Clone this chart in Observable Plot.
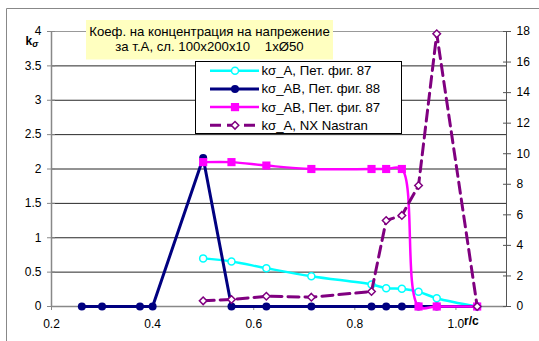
<!DOCTYPE html>
<html>
<head>
<meta charset="utf-8">
<script src="https://cdn.jsdelivr.net/npm/d3@7"></script>
<script src="https://cdn.jsdelivr.net/npm/@observablehq/plot@0.6"></script>
<style>
  body { margin: 0; background: #fff; }
</style>
</head>
<body>
<div id="chart"></div>
<script>
// r/c positions of the stations along the ligament
const rcA87  = [0.5, 0.556, 0.625, 0.714, 0.833, 0.862, 0.893, 0.926, 0.962, 1.042];
const rcAB88 = [0.26, 0.30, 0.375, 0.40, 0.5, 0.556, 0.625, 0.714, 0.833, 0.862, 0.893, 0.926, 0.962, 1.042];

// stress concentration factors (left axis)
const kA87   = [0.70, 0.655, 0.557, 0.44, 0.32, 0.266, 0.257, 0.214, 0.121, 0.0];
const kAB88  = [0, 0, 0, 0, 2.16, 0, 0, 0, 0, 0, 0, 0, 0, 0];
const kAB87  = [2.10, 2.10, 2.05, 2.0, 2.0, 2.0, 2.0, 0, 0, 0];
// NX Nastran result (right axis)
const kNastran = [0.37, 0.46, 0.67, 0.61, 0.98, 5.63, 5.96, 7.92, 17.85, 0];

// axis ticks
const xTicks = [0.2, 0.4, 0.6, 0.8, 1.0];
const leftTicks = [0, 0.5, 1, 1.5, 2, 2.5, 3, 3.5, 4];
const rightTicks = [0, 2, 4, 6, 8, 10, 12, 14, 16, 18];

const titleLines = ["Коеф. на концентрация на напрежение", "за т.А, сл. 100x200x10    1xØ50"];
const seriesNames = ["kσ_A, Пет. фиг. 87", "kσ_AB, Пет. фиг. 88", "kσ_AB, Пет. фиг. 87", "kσ_A, NX Nastran"];

const FONT = '"Liberation Sans", Arial, sans-serif';
const toLeft = 4 / 18; // right axis value -> left axis units

const table = (xs, ys, k = 1) => xs.map((x, i) => ({x, y: ys[i] * k}));
const sA87 = table(rcA87, kA87);
const sAB88 = table(rcAB88, kAB88);
const sAB87 = table(rcA87, kAB87);
const sNast = table(rcA87, kNastran, toLeft);

const C = {cyan: "#00FFFF", navy: "#000080", magenta: "#FF00FF", purple: "#800080"};

const chart = Plot.plot({
  width: 539,
  height: 341,
  marginTop: 31,
  marginBottom: 35,
  marginLeft: 51,
  marginRight: 33,
  x: {domain: [0.2, 1.1]},
  y: {domain: [0, 4]},
  style: {fontFamily: FONT, fontSize: "12px", color: "#000", background: "#fff"},
  marks: [
    Plot.gridY(leftTicks, {stroke: "#000", strokeOpacity: 0.85}),
    Plot.ruleY([4], {stroke: "#999"}),
    Plot.ruleX([1.1], {stroke: "#555"}),
    Plot.ruleX([0.2], {stroke: "#888", strokeWidth: 1.5}),
    Plot.ruleY([0], {stroke: "#888", strokeWidth: 1.5}),
    // left axis
    Plot.axisY(leftTicks, {anchor: "left", tickSize: 0, tickPadding: 10, tickFormat: d => String(d), label: null}),
    Plot.axisY(leftTicks, {anchor: "left", tickSize: 8, dx: 4, tickFormat: () => "", stroke: "#888", label: null}),
    // right axis
    Plot.axisY(rightTicks.map(v => v * toLeft), {anchor: "right", tickSize: 0, tickPadding: 10, tickFormat: d => String(Math.round(d / toLeft)), label: null}),
    Plot.axisY(rightTicks.map(v => v * toLeft), {anchor: "right", tickSize: 8, dx: -4, tickFormat: () => "", stroke: "#555", label: null}),
    // bottom axis
    Plot.axisX(xTicks, {tickSize: 4, tickPadding: 9, tickFormat: d3.format(".1f"), stroke: "#888", label: null}),
    // series
    Plot.line(sA87, {x: "x", y: "y", stroke: C.cyan, strokeWidth: 2.5, curve: "catmull-rom"}),
    Plot.dot(sA87, {x: "x", y: "y", r: 3.5, stroke: C.cyan, fill: "#fff", strokeWidth: 1.5}),
    Plot.line(sAB88, {x: "x", y: "y", stroke: C.navy, strokeWidth: 3}),
    Plot.dot(sAB88, {x: "x", y: "y", r: 4, fill: C.navy}),
    Plot.line(sAB87, {x: "x", y: "y", stroke: C.magenta, strokeWidth: 2.5, curve: "catmull-rom"}),
    Plot.dot(sAB87, {x: "x", y: "y", symbol: "square", r: 4.6, fill: C.magenta}),
    Plot.line(sNast, {x: "x", y: "y", stroke: C.purple, strokeWidth: 3, strokeDasharray: "11,6"}),
    Plot.dot(sNast, {x: "x", y: "y", symbol: "diamond2", r: 3.4, stroke: C.purple, fill: "#fff", strokeWidth: 1.5})
  ]
});

document.getElementById("chart").appendChild(chart);
const svg = d3.select(chart);

// chart frame
svg.append("path").attr("d", "M6.5,341V8.5H539").attr("fill", "none").attr("stroke", "#888");

// title box
const tb = svg.append("g").attr("font-family", FONT).attr("font-size", 13.2).attr("text-anchor", "middle");
tb.append("rect").attr("x", 86).attr("y", 20).attr("width", 247).attr("height", 39.5).attr("fill", "#FFFFC0");
titleLines.forEach((t, i) => {
  tb.append("text").attr("x", 209.5).attr("y", 31 + i * 15.7)
    .attr("dominant-baseline", "central").attr("fill", "#000").style("white-space", "pre").text(t);
});

// y-axis label
const yl = svg.append("text").attr("x", 25.5).attr("y", 45).attr("text-anchor", "start")
  .attr("font-family", FONT).attr("font-weight", "bold").attr("fill", "#000");
yl.append("tspan").attr("font-size", 12).text("k");
yl.append("tspan").attr("font-size", 9).attr("font-style", "italic").attr("dy", 2).text("σ");

// x-axis label
svg.append("text").attr("x", 464).attr("y", 325).attr("text-anchor", "start").attr("font-family", FONT)
  .attr("font-size", 12).attr("font-weight", "bold").attr("fill", "#000").text("r/c");

// legend
const lg = svg.append("g").attr("font-family", FONT).attr("font-size", 13.2).attr("text-anchor", "start");
lg.append("rect").attr("x", 195.5).attr("y", 61.5).attr("width", 206).attr("height", 72)
  .attr("fill", "#fff").attr("stroke", "#000");
const legendStyles = [
  {stroke: C.cyan, width: 2.5, dash: null, symbol: d3.symbolCircle, size: Math.PI * 3.5 * 3.5, fill: "#fff", mstroke: C.cyan},
  {stroke: C.navy, width: 3, dash: null, symbol: d3.symbolCircle, size: Math.PI * 16, fill: C.navy, mstroke: "none"},
  {stroke: C.magenta, width: 2.5, dash: null, symbol: d3.symbolSquare, size: 8.2 * 8.2, fill: C.magenta, mstroke: "none"},
  {stroke: C.purple, width: 3, dash: "11,6", symbol: d3.symbolDiamond2, size: Math.PI * 3.4 * 3.4, fill: "#fff", mstroke: C.purple}
];
seriesNames.forEach((name, i) => {
  const y = 70.7 + i * 18.2;
  const s = legendStyles[i];
  lg.append("line").attr("x1", 210).attr("x2", 259).attr("y1", y).attr("y2", y)
    .attr("stroke", s.stroke).attr("stroke-width", s.width).attr("stroke-dasharray", s.dash);
  lg.append("path").attr("d", d3.symbol(s.symbol, s.size)()).attr("transform", `translate(235,${y})`)
    .attr("fill", s.fill).attr("stroke", s.mstroke).attr("stroke-width", 1.5);
  lg.append("text").attr("x", 261.5).attr("y", y).attr("dominant-baseline", "central").attr("fill", "#000").text(name);
});
</script>
</body>
</html>
